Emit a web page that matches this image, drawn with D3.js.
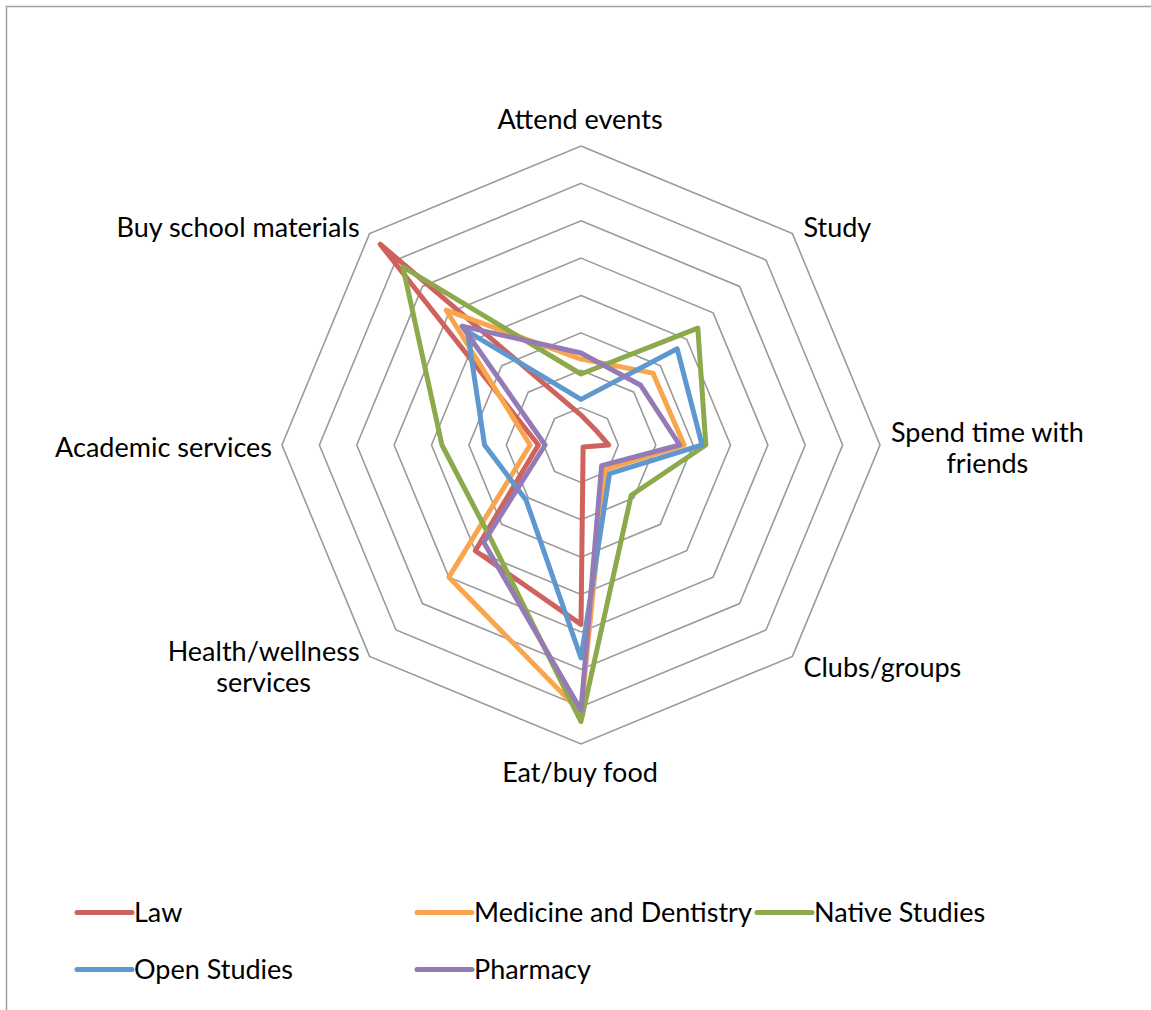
<!DOCTYPE html>
<html>
<head>
<meta charset="utf-8">
<script src="https://cdn.jsdelivr.net/npm/d3@7"></script>
<style>
  html, body { margin: 0; padding: 0; background: #fff; }
  svg { display: block; }
  text { font-family: Lato, "Open Sans", sans-serif; fill: #000; }
</style>
</head>
<body>
<svg id="chart" width="1151" height="1010"></svg>
<script>
// ---- data ----
const categories = ["Attend events", "Study", "Spend time with friends", "Clubs/groups",
  "Eat/buy food", "Health/wellness services", "Academic services", "Buy school materials"];
const categoryLines = [["Attend events"], ["Study"], ["Spend time with", "friends"], ["Clubs/groups"],
  ["Eat/buy food"], ["Health/wellness", "services"], ["Academic services"], ["Buy school materials"]];
const seriesNames = ["Law", "Medicine and Dentistry", "Native Studies", "Open Studies", "Pharmacy"];
const law       = [4.0, 2.8, 3.7, 0.4, 24.0, 20.0, 5.7, 38.0];
const medicine  = [11.5, 13.6, 13.8, 4.6, 35.8, 25.0, 6.8, 25.5];
const native    = [9.5, 22.1, 16.7, 9.5, 37.0, 17.3, 18.6, 33.7];
const open      = [6.1, 18.2, 16.2, 5.4, 28.5, 10.4, 12.9, 21.5];
const pharmacy  = [12.3, 11.3, 13.2, 3.9, 35.5, 18.4, 4.8, 22.5];
const seriesValues = [law, medicine, native, open, pharmacy];
const seriesColors = ["#CF625C", "#F9A54E", "#8CA94B", "#5F98CF", "#957BB6"];
const ringTicks = [5, 10, 15, 20, 25, 30, 35, 40];

// ---- layout ----
const svg = d3.select("#chart");
const cx = 581, cy = 445, R = 299;
const rScale = d3.scaleLinear().domain([0, 40]).range([0, R]);
const n = categories.length;
const angle = i => i * 2 * Math.PI / n;

// frame
svg.append("rect").attr("x", 6.5).attr("y", 6.5).attr("width", 1170).attr("height", 1030)
  .attr("fill", "none").attr("stroke", "#a0a0a0").attr("stroke-width", 1.5);

const g = svg.append("g").attr("transform", `translate(${cx},${cy})`);

const radial = d3.lineRadial()
  .angle((d, i) => angle(i))
  .radius(d => rScale(d))
  .curve(d3.curveLinearClosed);

// grid rings
g.append("g").selectAll("path").data(ringTicks).join("path")
  .attr("d", t => radial(categories.map(() => t)))
  .attr("fill", "none").attr("stroke", "#9a9a9a").attr("stroke-width", 1.6);

// series
g.append("g").selectAll("path").data(seriesValues).join("path")
  .attr("d", v => radial(v))
  .attr("fill", "none")
  .attr("stroke", (v, i) => seriesColors[i])
  .attr("stroke-width", 5)
  .attr("stroke-linejoin", "round");

// axis labels
const fs = 27, lh = 31;
categoryLines.forEach((lines, i) => {
  const a = angle(i);
  const s = Math.sin(a), c = Math.cos(a);
  const vx = R * s, vy = -R * c;
  let anchor, x, firstBaseline;
  const blockH = (lines.length - 1) * lh;
  if (Math.abs(s) < 0.01) {
    anchor = "middle"; x = vx - 1;
    if (c > 0) firstBaseline = vy - 17 - blockH;
    else firstBaseline = vy + 38;
  } else {
    anchor = s > 0 ? "start" : "end";
    x = s > 0 ? vx + 11 : vx - 10;
    const centerY = vy - c * 12 + 2;
    firstBaseline = centerY - blockH / 2 + 10;
  }
  const t = g.append("text").attr("text-anchor", anchor).style("font-size", fs + "px");
  const spans = lines.map((ln, k) =>
    t.append("tspan").attr("x", x).attr("y", firstBaseline + k * lh).text(ln));
  if (lines.length > 1 && anchor !== "middle") {
    const maxW = d3.max(spans, sp => sp.node().getComputedTextLength());
    const mid = anchor === "start" ? x + maxW / 2 : x - maxW / 2;
    t.attr("text-anchor", "middle");
    spans.forEach(sp => sp.attr("x", mid));
  }
});

// legend
const legend = svg.append("g");
seriesNames.forEach((name, i) => {
  const col = i % 3, row = Math.floor(i / 3);
  const x0 = 77 + col * 340, y0 = 912.5 + row * 57;
  legend.append("line").attr("x1", x0).attr("x2", x0 + 55).attr("y1", y0).attr("y2", y0)
    .attr("stroke", seriesColors[i]).attr("stroke-width", 5).attr("stroke-linecap", "round");
  legend.append("text").attr("x", x0 + 57).attr("y", y0 + 9.5).style("font-size", fs + "px").text(name);
});
</script>
</body>
</html>
